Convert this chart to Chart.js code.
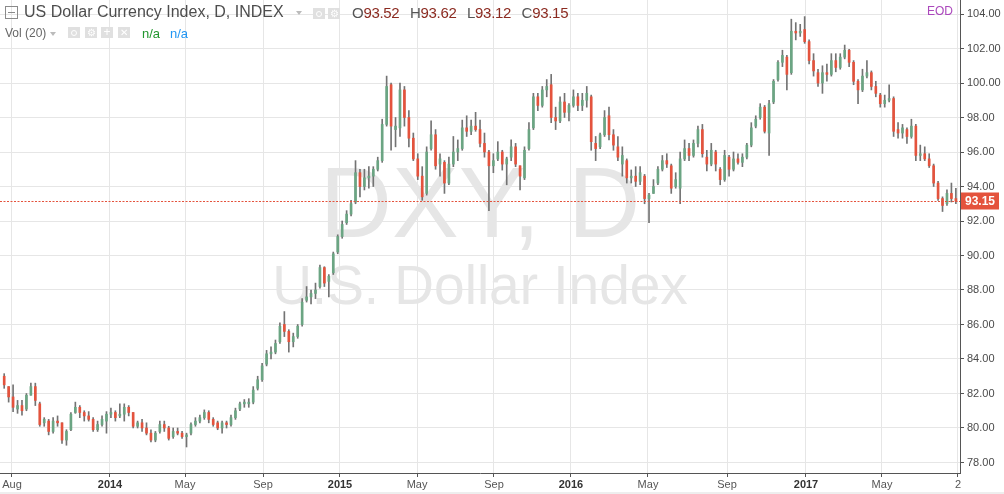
<!DOCTYPE html>
<html>
<head>
<meta charset="utf-8">
<script src="https://cdn.jsdelivr.net/npm/chart.js"></script>
<style>
    html, body { margin: 0; padding: 0; background: #fff; }
    #wrap { position: relative; width: 1004px; height: 494px; overflow: hidden; font-family: "Liberation Sans", Arial, sans-serif; }
    #priceChart { position: absolute; left: 0; top: 0; }
    .mark { position: absolute; left: 0; width: 960px; text-align: center; color: #e6e6e6; white-space: nowrap; }
    #mark1 { top: 152px; font-size: 100px; line-height: 100px; }
    #mark2 { top: 258px; font-size: 55px; line-height: 55px; }
    .hdr { position: absolute; white-space: nowrap; }
    #title { left: 24px; top: 4px; font-size: 16px; line-height: 16px; color: #4d4d4d; }
    #ohlc { left: 352px; top: 5px; font-size: 15px; line-height: 15px; letter-spacing: -0.3px; color: #555; }
    #ohlc b { font-weight: normal; color: #8b2a20; margin-right: 10.5px; }
    #vol { left: 5px; top: 27px; font-size: 12px; line-height: 12px; color: #666; }
    .na { top: 27px; font-size: 13px; line-height: 13px; }
    #eod { right: 51px; top: 5px; font-size: 12px; line-height: 12px; color: #ab47bc; }
    .arrow { position: absolute; width: 0; height: 0; border-left: 3.5px solid transparent; border-right: 3.5px solid transparent; border-top: 4px solid #bbb; }
    .ibox { position: absolute; width: 12px; height: 11px; background: #e0e0e0; color: #fff; font-size: 10px; line-height: 11px; text-align: center; }
    .eye { position: absolute; left: 3px; top: 2.5px; width: 4px; height: 4px; border: 1.5px solid #fff; border-radius: 50%; }
    #menu { position: absolute; left: 5px; top: 6px; width: 11px; height: 11px; border: 1px solid #8a8a8a; }
    #menu span { position: absolute; left: 2px; top: 5px; width: 7px; height: 1px; background: #8a8a8a; }
    #foot { position: absolute; left: 0; top: 492px; width: 1004px; height: 2px; background: #eeeeee; }
</style>
</head>
<body>
<div id="wrap">
    <div class="mark" id="mark1">DXY, D</div>
    <div class="mark" id="mark2">U.S. Dollar Index</div>
    <canvas id="priceChart" width="1004" height="494"></canvas>

    <div id="menu"><span></span></div>
    <div class="hdr" id="title">US Dollar Currency Index, D, INDEX</div>
    <div class="arrow" style="left:296px; top:11px;"></div>
    <div class="ibox" style="left:313px; top:8px;"><span class="eye"></span></div>
    <div class="ibox" style="left:328px; top:8px;">⚙</div>
    <div class="hdr" id="ohlc">O<b>93.52</b>H<b>93.62</b>L<b>93.12</b>C<b>93.15</b></div>
    <div class="hdr" id="eod">EOD</div>

    <div class="hdr" id="vol">Vol (20)</div>
    <div class="arrow" style="left:50px; top:32px;"></div>
    <div class="ibox" style="left:68px; top:27px;"><span class="eye"></span></div>
    <div class="ibox" style="left:85px; top:27px;">⚙</div>
    <div class="ibox" style="left:101px; top:27px; font-size:12px;">+</div>
    <div class="ibox" style="left:118px; top:27px;">✕</div>
    <div class="hdr na" style="left:142px; color:#22962e;">n/a</div>
    <div class="hdr na" style="left:170px; color:#2196f3;">n/a</div>
    <div id="foot"></div>
</div>

<script>
    // 주간 캔들 (2013-07-15 주부터 2017-08-21 주까지)
    const opens = [
        83.0, 82.4, 81.8, 81.1, 81.3, 81.1, 81.9, 82.4, 81.4, 80.3,
        80.4, 79.8, 80.4, 80.3, 79.3, 79.9, 80.9, 81.2, 80.9, 80.7,
        80.5, 79.9, 80.2, 80.4, 80.8, 80.9, 80.7, 80.8, 81.2, 80.9,
        80.1, 80.3, 80.0, 79.7, 79.3, 79.8, 80.2, 80.0, 79.5, 79.8,
        79.7, 79.5, 79.7, 80.2, 80.4, 80.6, 80.9, 80.5, 80.3, 80.0,
        80.3, 80.2, 80.6, 81.1, 81.4, 81.4, 81.5, 82.3, 82.8, 83.7,
        84.3, 84.4, 85.0, 86.0, 85.6, 85.0, 85.3, 86.0, 87.4, 87.6,
        87.8, 88.2, 89.3, 88.5, 89.0, 90.2, 91.1, 91.9, 92.4, 93.1,
        94.8, 94.0, 94.5, 94.6, 95.0, 95.5, 97.6, 99.9, 97.3, 97.4,
        99.6, 98.0, 96.8, 95.6, 94.6, 93.6, 96.2, 97.0, 95.3, 95.4,
        94.2, 95.3, 96.0, 96.2, 97.4, 97.2, 97.5, 97.3, 96.5, 96.0,
        95.2, 95.6, 96.0, 95.3, 95.7, 96.3, 95.2, 94.5, 96.2, 97.4,
        99.2, 98.7, 99.6, 99.9, 98.0, 97.8, 98.9, 98.3, 98.7, 99.2,
        98.7, 99.0, 99.2, 96.5, 96.3, 97.0, 98.1, 97.0, 96.3, 95.3,
        95.5, 94.5, 94.6, 94.3, 94.6, 93.3, 93.6, 94.2, 95.0, 95.5,
        95.2, 94.0, 93.9, 95.6, 96.2, 95.8, 96.5, 97.3, 95.7, 95.3,
        96.0, 95.0, 94.4, 95.7, 95.0, 95.6, 95.4, 95.7, 96.4, 97.5,
        98.0, 98.6, 97.1, 98.9, 100.2, 101.2, 101.5, 100.6, 103.0, 102.9,
        103.1, 102.4, 101.3, 100.6, 100.0, 100.6, 100.5, 101.3, 100.9, 101.5,
        101.9, 101.2, 100.1, 99.6, 100.4, 100.6, 99.8, 99.3, 98.8, 99.0,
        99.1, 97.3, 97.1, 97.3, 96.9, 97.5, 95.8, 95.9, 95.6, 95.2,
        94.2, 93.3, 93.0, 93.6, 93.3
    ];
    const highs = [
        83.15, 82.4, 82.5, 81.6, 81.6, 82.0, 82.6, 82.6, 81.5, 80.6,
        80.5, 80.6, 80.7, 80.3, 79.9, 80.9, 81.5, 81.3, 81.0, 80.95,
        80.6, 80.4, 80.7, 80.95, 81.15, 81.0, 81.4, 81.4, 81.3, 80.9,
        80.4, 80.5, 80.3, 79.9, 79.8, 80.4, 80.4, 80.1, 80.0, 80.0,
        79.8, 79.7, 80.3, 80.6, 80.75, 81.05, 81.0, 80.6, 80.4, 80.4,
        80.4, 80.75, 81.15, 81.5, 81.65, 81.7, 82.4, 83.0, 83.75, 84.5,
        84.7, 85.1, 86.1, 86.75, 85.7, 85.5, 86.0, 87.5, 88.2, 88.0,
        88.4, 89.45, 89.35, 88.9, 90.2, 91.2, 92.0, 92.6, 93.2, 95.5,
        95.0, 95.0, 95.15, 95.15, 95.7, 97.9, 100.4, 100.0, 98.0, 100.0,
        99.8, 98.4, 97.1, 95.9, 95.15, 96.3, 97.8, 97.3, 95.9, 95.5,
        95.7, 96.9, 96.7, 97.85, 98.1, 97.85, 98.3, 97.85, 97.1, 96.1,
        95.9, 96.6, 96.1, 95.7, 96.7, 96.5, 95.2, 96.3, 97.7, 99.4,
        99.4, 99.8, 100.2, 100.5, 98.6, 99.2, 99.4, 98.8, 99.6, 99.4,
        99.4, 99.8, 99.3, 96.9, 97.1, 98.4, 98.6, 97.3, 96.9, 96.3,
        95.6, 94.96, 95.15, 95.15, 94.7, 93.6, 94.4, 95.15, 95.8, 95.9,
        95.3, 94.8, 96.0, 96.7, 96.5, 96.7, 97.5, 97.6, 96.1, 96.5,
        96.1, 95.1, 96.1, 95.8, 96.0, 95.9, 95.9, 96.5, 97.7, 98.1,
        98.8, 98.7, 99.0, 100.2, 101.3, 101.9, 101.6, 103.7, 103.5, 103.4,
        103.85, 102.5, 101.7, 100.8, 101.0, 101.1, 101.7, 101.7, 101.7, 102.2,
        101.95, 101.3, 100.2, 100.8, 101.3, 100.7, 100.1, 99.4, 99.3, 99.9,
        99.2, 97.7, 97.6, 97.4, 97.9, 97.6, 96.4, 96.3, 95.9, 95.3,
        94.3, 93.4, 93.8, 94.2, 93.9
    ];
    const lows = [
        82.3, 81.5, 80.95, 80.85, 80.75, 81.0, 81.9, 81.3, 80.1, 80.1,
        79.6, 79.7, 80.1, 79.1, 79.0, 79.85, 80.85, 80.6, 80.4, 80.4,
        79.8, 79.8, 80.1, 79.7, 80.6, 80.4, 80.6, 80.4, 80.7, 80.0,
        80.0, 79.8, 79.6, 79.2, 79.2, 79.7, 79.8, 79.3, 79.4, 79.6,
        79.4, 78.9, 79.6, 80.1, 80.3, 80.5, 80.3, 80.1, 79.9, 79.7,
        80.0, 80.1, 80.5, 81.0, 81.2, 81.2, 81.4, 82.2, 82.7, 83.6,
        84.0, 84.3, 84.9, 85.3, 84.4, 84.7, 85.2, 85.9, 87.3, 87.2,
        87.5, 88.1, 88.2, 87.6, 88.9, 90.1, 91.0, 91.8, 92.3, 93.0,
        93.4, 93.8, 93.9, 94.0, 94.9, 95.4, 97.5, 96.1, 96.3, 96.9,
        97.5, 96.3, 95.5, 94.4, 93.2, 93.5, 96.1, 95.0, 94.6, 93.6,
        94.1, 95.15, 95.5, 96.1, 96.9, 97.0, 97.2, 96.3, 95.7, 92.6,
        94.8, 95.5, 94.95, 94.1, 95.5, 95.15, 93.8, 94.4, 96.1, 97.3,
        98.4, 98.6, 99.2, 97.7, 97.3, 97.7, 98.0, 97.8, 98.6, 98.4,
        98.4, 98.6, 96.1, 95.5, 96.2, 96.9, 96.7, 96.1, 95.5, 94.6,
        94.2, 94.2, 94.0, 94.1, 93.0, 91.9, 93.6, 94.1, 94.9, 95.1,
        93.6, 93.9, 93.0, 95.5, 95.5, 95.7, 96.3, 95.7, 94.9, 95.2,
        94.9, 94.1, 94.3, 94.6, 94.9, 95.3, 95.15, 95.6, 96.3, 97.4,
        97.9, 97.1, 95.8, 98.8, 100.1, 100.95, 99.6, 100.5, 102.5, 102.7,
        102.3, 101.1, 100.4, 99.8, 99.4, 100.1, 100.4, 100.65, 100.8, 101.4,
        100.95, 99.9, 98.8, 99.5, 100.3, 99.6, 99.2, 98.6, 98.6, 98.9,
        96.9, 96.8, 96.8, 96.5, 96.8, 95.5, 95.5, 95.5, 95.1, 94.0,
        93.2, 92.55, 92.9, 93.1, 93.0
    ];
    const closes = [
        82.5, 81.8, 81.2, 81.3, 81.0, 81.9, 82.4, 81.6, 80.2, 80.5,
        79.8, 80.4, 80.3, 79.3, 79.8, 80.8, 81.2, 80.9, 80.7, 80.5,
        79.9, 80.2, 80.5, 80.8, 80.9, 80.6, 80.8, 81.2, 80.9, 80.1,
        80.3, 80.0, 79.7, 79.3, 79.7, 80.2, 80.0, 79.4, 79.8, 79.7,
        79.5, 79.6, 80.2, 80.4, 80.6, 80.9, 80.5, 80.2, 80.0, 80.3,
        80.2, 80.6, 81.0, 81.4, 81.5, 81.5, 82.2, 82.8, 83.6, 84.3,
        84.4, 84.9, 85.9, 85.6, 85.0, 85.3, 85.9, 87.3, 87.6, 87.8,
        88.0, 89.3, 88.4, 88.8, 90.1, 91.1, 91.8, 92.4, 93.0, 94.8,
        94.0, 94.5, 94.6, 95.0, 95.5, 97.6, 99.8, 97.5, 97.5, 99.6,
        98.0, 96.8, 95.6, 94.6, 93.4, 96.0, 97.0, 95.2, 95.6, 94.2,
        95.3, 96.0, 96.2, 97.4, 97.2, 97.5, 97.3, 96.5, 96.0, 95.2,
        95.5, 96.0, 95.3, 95.6, 96.3, 95.3, 94.6, 96.1, 97.3, 99.2,
        98.7, 99.6, 99.8, 98.0, 97.8, 98.9, 98.3, 98.7, 99.2, 98.7,
        99.0, 99.4, 96.6, 96.2, 97.0, 98.0, 97.0, 96.4, 95.7, 95.8,
        94.5, 94.6, 94.3, 94.8, 93.3, 93.5, 94.0, 95.0, 95.5, 95.3,
        93.9, 94.4, 95.6, 96.2, 95.8, 96.5, 97.3, 95.9, 95.3, 96.1,
        95.3, 94.4, 95.8, 95.0, 95.6, 95.4, 95.7, 96.4, 97.4, 97.9,
        98.6, 97.2, 98.8, 100.1, 101.2, 101.6, 100.5, 103.0, 102.9, 103.0,
        102.4, 101.3, 100.7, 100.0, 100.6, 100.5, 101.3, 100.9, 101.5, 101.9,
        101.2, 100.1, 99.6, 100.4, 100.6, 99.8, 99.4, 98.8, 99.0, 99.1,
        97.2, 97.1, 97.4, 96.9, 97.5, 95.8, 95.9, 95.6, 95.2, 94.2,
        93.3, 92.9, 93.6, 93.3, 93.15
    ];

    // 축 눈금 (x 는 주 번호 기준 위치)
    const xTickLabels = ['Aug', '2014', 'May', 'Sep', '2015', 'May', 'Sep', '2016', 'May', 'Sep', '2017', 'May', '2'];
    const xTickWeeks = [1.75, 23.79, 40.66, 58.2, 75.51, 92.83, 110.14, 127.45, 144.77, 162.54, 180.3, 197.39, 214.48];
    const yTicks = [78, 80, 82, 84, 86, 88, 90, 92, 94, 96, 98, 100, 102, 104];

    const UP = '#6ba583';
    const DOWN = '#e4533d';
    const WICK = '#737373';
    const lastPrice = closes[closes.length - 1];
    const weeks = closes.map((c, i) => i);

    // 마지막 가격 점선과 라벨
    const lastPricePlugin = {
        id: 'lastPrice',
        afterDraw(chart) {
            const { ctx, chartArea, scales } = chart;
            const y = Math.round(scales.y.getPixelForValue(lastPrice)) + 0.5;
            ctx.save();
            ctx.strokeStyle = DOWN;
            ctx.lineWidth = 1;
            ctx.setLineDash([2, 1.5]);
            ctx.beginPath();
            ctx.moveTo(chartArea.left, y);
            ctx.lineTo(chartArea.right, y);
            ctx.stroke();
            ctx.setLineDash([]);
            ctx.fillStyle = DOWN;
            ctx.fillRect(chartArea.right + 1, y - 9, 38, 17);
            ctx.fillStyle = '#fff';
            ctx.font = 'bold 12px "Liberation Sans", Arial, sans-serif';
            ctx.textAlign = 'center';
            ctx.textBaseline = 'middle';
            ctx.fillText(lastPrice.toFixed(2), chartArea.right + 20, y + 0.5);
            ctx.restore();
        }
    };

    const chart = new Chart(document.getElementById('priceChart'), {
        type: 'bar',
        data: {
            datasets: [{
                label: 'wick',
                data: weeks.map(i => ({ x: i, y: [lows[i], highs[i]] })),
                backgroundColor: WICK,
                barThickness: 1,
                grouped: false,
                order: 2
            }, {
                label: 'body',
                data: weeks.map(i => ({ x: i, y: [opens[i], closes[i]] })),
                backgroundColor: weeks.map(i => closes[i] >= opens[i] ? UP : DOWN),
                barThickness: 2,
                grouped: false,
                order: 1
            }]
        },
        options: {
            responsive: false,
            animation: false,
            layout: { padding: 0 },
            plugins: { legend: { display: false }, tooltip: { enabled: false } },
            scales: {
                x: {
                    type: 'linear',
                    min: -0.944,
                    max: 214.93,
                    offset: false,
                    afterBuildTicks: s => { s.ticks = xTickWeeks.map(v => ({ value: v })); },
                    afterFit: s => { s.height = 21; s.paddingLeft = 0; s.paddingRight = 0; },
                    grid: { offset: false, color: '#e6e6e6', tickColor: '#555', tickLength: 4 },
                    border: { color: '#555' },
                    ticks: {
                        autoSkip: false,
                        maxRotation: 0,
                        padding: 1,
                        callback: (v, i) => xTickLabels[i],
                        color: ctx => /^\d{4}$/.test(xTickLabels[ctx.index]) ? '#333' : '#555',
                        font: ctx => ({
                            family: '"Liberation Sans", Arial, sans-serif',
                            size: 11,
                            weight: /^\d{4}$/.test(xTickLabels[ctx.index]) ? 'bold' : 'normal'
                        })
                    }
                },
                y: {
                    position: 'right',
                    min: 77.391,
                    max: 104.812,
                    afterBuildTicks: s => { s.ticks = yTicks.map(v => ({ value: v })); },
                    afterFit: s => { s.width = 44; s.paddingTop = 0; s.paddingBottom = 0; },
                    grid: { color: '#e6e6e6', tickColor: '#555', tickLength: 4 },
                    border: { color: '#555' },
                    ticks: {
                        padding: 3,
                        color: '#4a4a4a',
                        font: { family: '"Liberation Sans", Arial, sans-serif', size: 11 },
                        callback: v => v.toFixed(2)
                    }
                }
            }
        },
        plugins: [lastPricePlugin]
    });
</script>
</body>
</html>
